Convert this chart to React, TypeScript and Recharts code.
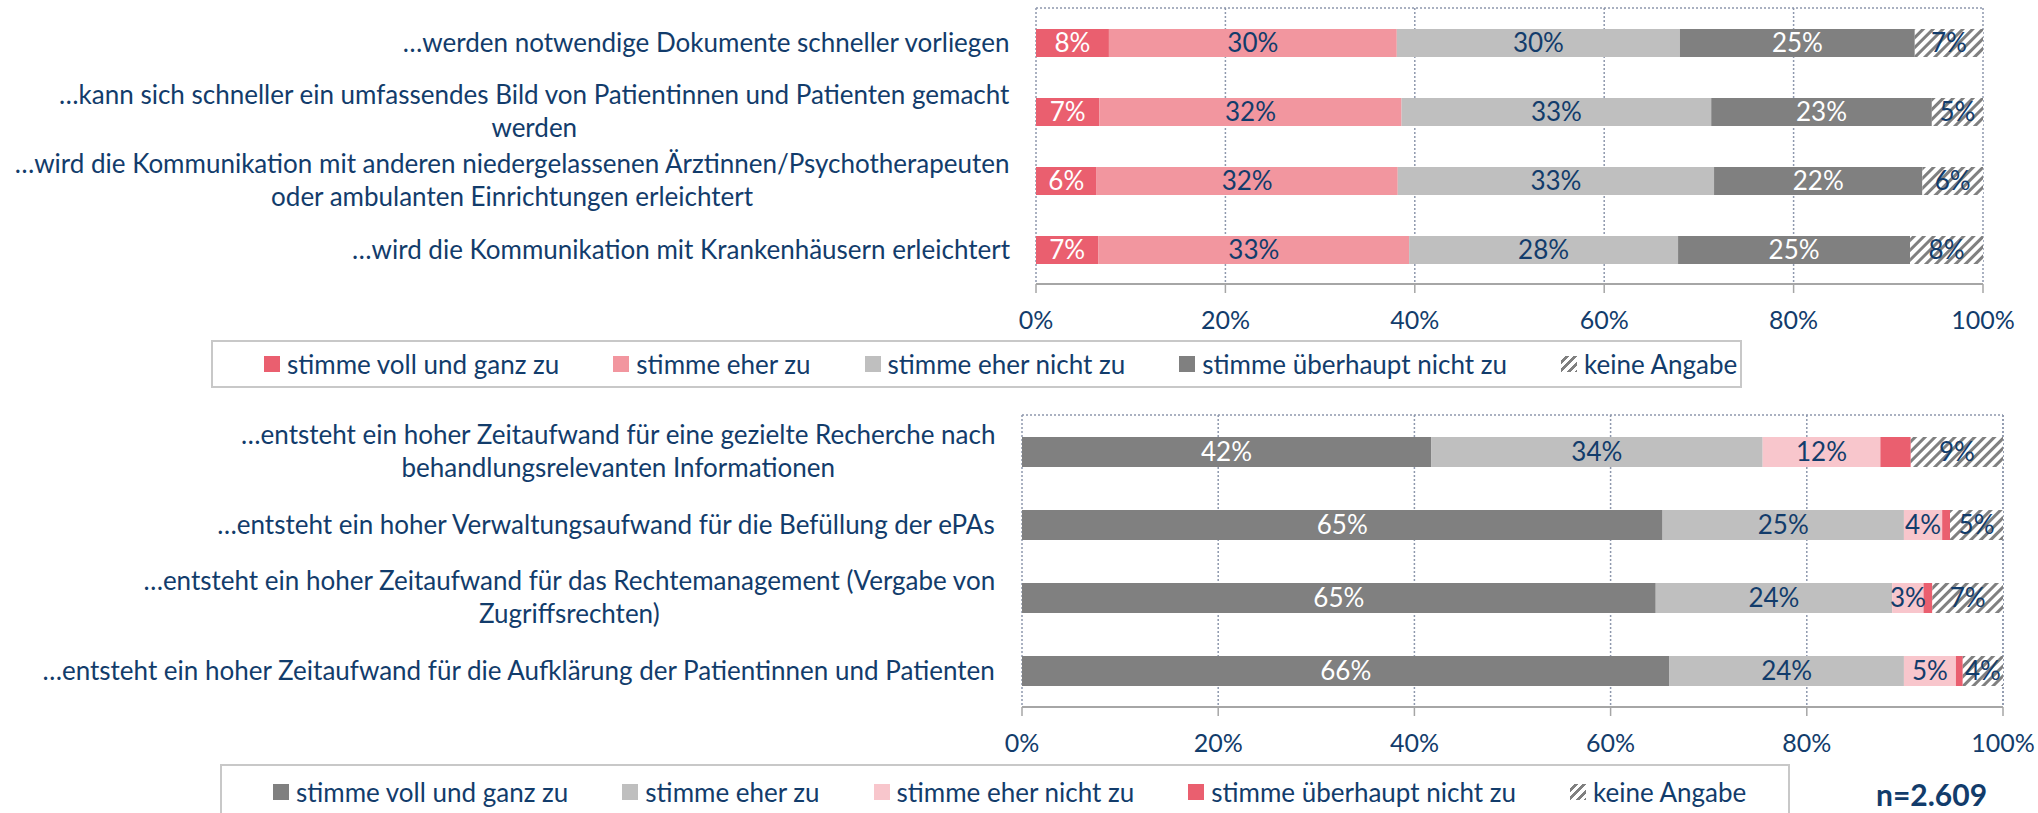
import React from 'react';
import { Bar, BarChart, CartesianGrid, LabelList, XAxis, YAxis } from 'recharts';

const FONT = 'Lato';
const FONT_SIZE = 26;
const LINE_H = 33;
const TEXT_BLUE = '#123c6b';
const GRID = '#8e98ad';
const AXIS = '#a6a6a6';

const RED = '#ea5f6f';
const PINK = '#f2969f';
const LIGHT_PINK = '#f8c6cc';
const LIGHT_GRAY = '#bfbfbf';
const DARK_GRAY = '#808080';

const LEGEND_LABELS = [
  'stimme voll und ganz zu',
  'stimme eher zu',
  'stimme eher nicht zu',
  'stimme überhaupt nicht zu',
  'keine Angabe',
];
const X_TICKS = [0, 20, 40, 60, 80, 100];

// oberes Diagramm (Nutzen)
const TOP_CATEGORIES = [
  '…werden notwendige Dokumente schneller vorliegen',
  '…kann sich schneller ein umfassendes Bild von Patientinnen und Patienten gemacht\nwerden',
  '…wird die Kommunikation mit anderen niedergelassenen Ärztinnen/Psychotherapeuten\noder ambulanten Einrichtungen erleichtert',
  '…wird die Kommunikation mit Krankenhäusern erleichtert',
];
const TOP_VOLL = [7.7, 6.7, 6.4, 6.6];
const TOP_EHER = [30.4, 31.9, 31.8, 32.8];
const TOP_EHER_NICHT = [29.9, 32.7, 33.4, 28.4];
const TOP_UEBERHAUPT_NICHT = [24.8, 23.3, 22.0, 24.5];
const TOP_KEINE = [7.2, 5.4, 6.4, 7.7];

// unteres Diagramm (Aufwand)
const BOTTOM_CATEGORIES = [
  '…entsteht ein hoher Zeitaufwand für eine gezielte Recherche nach\nbehandlungsrelevanten Informationen',
  '…entsteht ein hoher Verwaltungsaufwand für die Befüllung der ePAs',
  '…entsteht ein hoher Zeitaufwand für das Rechtemanagement (Vergabe von\nZugriffsrechten)',
  '…entsteht ein hoher Zeitaufwand für die Aufklärung der Patientinnen und Patienten',
];
const BOTTOM_VOLL = [41.7, 65.3, 64.6, 66.0];
const BOTTOM_EHER = [33.8, 24.6, 24.1, 23.9];
const BOTTOM_EHER_NICHT = [12.0, 3.9, 3.2, 5.3];
const BOTTOM_UEBERHAUPT_NICHT = [3.1, 0.8, 0.9, 0.7];
const BOTTOM_KEINE = [9.4, 5.4, 7.2, 4.1];

type Series = { color: string; labelColor: string; showLabel: boolean };

const TOP_SERIES: Series[] = [
  { color: RED, labelColor: '#fff', showLabel: true },
  { color: PINK, labelColor: TEXT_BLUE, showLabel: true },
  { color: LIGHT_GRAY, labelColor: TEXT_BLUE, showLabel: true },
  { color: DARK_GRAY, labelColor: '#fff', showLabel: true },
  { color: 'hatch', labelColor: TEXT_BLUE, showLabel: true },
];
const BOTTOM_SERIES: Series[] = [
  { color: DARK_GRAY, labelColor: '#fff', showLabel: true },
  { color: LIGHT_GRAY, labelColor: TEXT_BLUE, showLabel: true },
  { color: LIGHT_PINK, labelColor: TEXT_BLUE, showLabel: true },
  { color: RED, labelColor: '#fff', showLabel: false },
  { color: 'hatch', labelColor: TEXT_BLUE, showLabel: true },
];

const buildRows = (cats: string[], cols: number[][]) =>
  cats.map((name, i) => {
    const row: Record<string, string | number> = { name };
    cols.forEach((c, k) => {
      row[`s${k}`] = c[i];
    });
    return row;
  });

const topRows = buildRows(TOP_CATEGORIES, [TOP_VOLL, TOP_EHER, TOP_EHER_NICHT, TOP_UEBERHAUPT_NICHT, TOP_KEINE]);
const bottomRows = buildRows(BOTTOM_CATEGORIES, [
  BOTTOM_VOLL,
  BOTTOM_EHER,
  BOTTOM_EHER_NICHT,
  BOTTOM_UEBERHAUPT_NICHT,
  BOTTOM_KEINE,
]);

let ctx: CanvasRenderingContext2D | null = null;
function textWidth(s: string) {
  if (!ctx) ctx = document.createElement('canvas').getContext('2d');
  if (!ctx) return s.length * FONT_SIZE * 0.5;
  ctx.font = `${FONT_SIZE}px ${FONT}`;
  return ctx.measureText(s).width;
}

// mehrzeilige Beschriftung: Zeilen zentriert, Block rechtsbündig
function CategoryTick(props: any) {
  const { x, y, payload } = props;
  const lines = String(payload.value).split('\n');
  const maxW = Math.max(...lines.map(textWidth));
  const cx = x - maxW / 2;
  const y0 = y - ((lines.length - 1) * LINE_H) / 2;
  return (
    <text textAnchor="middle" fontFamily={FONT} fontSize={FONT_SIZE} fill={TEXT_BLUE}>
      {lines.map((l, i) => (
        <tspan key={i} x={cx} y={y0 + i * LINE_H} dy="0.35em">
          {l}
        </tspan>
      ))}
    </text>
  );
}

type ChartProps = {
  rows: Record<string, string | number>[];
  series: Series[];
  width: number;
  height: number;
  plotLeft: number;
  marginTop: number;
  marginRight: number;
  bandH: number;
  barSize: number;
  patternId: string;
};

function StackedChart({
  rows,
  series,
  width,
  height,
  plotLeft,
  marginTop,
  marginRight,
  bandH,
  barSize,
  patternId,
}: ChartProps) {
  return (
    <BarChart
      width={width}
      height={height}
      data={rows}
      layout="vertical"
      margin={{ top: marginTop, right: marginRight, bottom: 0, left: 0 }}
      barCategoryGap={0}
    >
      <defs>
        <pattern id={patternId} width={7} height={7} patternUnits="userSpaceOnUse" patternTransform="rotate(45)">
          <rect width={7} height={7} fill="#fff" />
          <rect width={3} height={7} fill={DARK_GRAY} />
        </pattern>
      </defs>
      <CartesianGrid yAxisId="grid" stroke={GRID} strokeDasharray="2 2" strokeWidth={1.5} />
      <XAxis
        type="number"
        domain={[0, 100]}
        ticks={X_TICKS}
        tickFormatter={v => `${v}%`}
        axisLine={{ stroke: AXIS, strokeWidth: 2 }}
        tickLine={{ stroke: AXIS, strokeWidth: 1.5 }}
        tickSize={9}
        tickMargin={18}
        height={height - marginTop - 4 * bandH}
        tick={{ fill: TEXT_BLUE, fontSize: 25, fontFamily: FONT }}
      />
      <YAxis
        yAxisId="grid"
        type="number"
        domain={[0, 4]}
        ticks={[0, 1, 2, 3, 4]}
        tick={false}
        tickSize={7}
        width={0}
        axisLine={{ stroke: AXIS, strokeWidth: 2 }}
        tickLine={{ stroke: AXIS, strokeWidth: 1.5 }}
      />
      <YAxis
        yAxisId="cat"
        type="category"
        dataKey="name"
        width={plotLeft}
        axisLine={false}
        tickLine={false}
        tickSize={6}
        tickMargin={20}
        interval={0}
        tick={<CategoryTick />}
      />
      {series.map((s, k) => (
        <Bar
          key={k}
          yAxisId="cat"
          dataKey={`s${k}`}
          stackId="a"
          fill={s.color === 'hatch' ? `url(#${patternId})` : s.color}
          barSize={barSize}
          isAnimationActive={false}
        >
          {s.showLabel && (
            <LabelList
              dataKey={`s${k}`}
              position="center"
              formatter={(v: any) => `${Math.round(Number(v))}%`}
              fill={s.labelColor}
              fontSize={FONT_SIZE}
              fontFamily={FONT}
            />
          )}
        </Bar>
      ))}
    </BarChart>
  );
}

function LegendBox({ colors, style }: { colors: string[]; style: React.CSSProperties }) {
  return (
    <div
      style={{
        position: 'absolute',
        boxSizing: 'border-box',
        border: '2px solid #c8c8c8',
        display: 'flex',
        alignItems: 'center',
        paddingLeft: 51,
        gap: 54,
        fontFamily: FONT,
        fontSize: 26,
        color: TEXT_BLUE,
        ...style,
      }}
    >
      {LEGEND_LABELS.map((label, i) => (
        <div key={label} style={{ display: 'flex', alignItems: 'center', gap: 7, whiteSpace: 'nowrap' }}>
          <span
            style={{
              display: 'inline-block',
              width: 16,
              height: 16,
              background:
                colors[i] === 'hatch'
                  ? `repeating-linear-gradient(135deg, #fff 0 3px, ${DARK_GRAY} 3px 6px)`
                  : colors[i],
            }}
          />
          <span>{label}</span>
        </div>
      ))}
    </div>
  );
}

export default function App() {
  return (
    <div style={{ position: 'absolute', left: 0, top: 0, width: 2038, height: 813, background: '#fff', overflow: 'hidden' }}>
      <div style={{ position: 'absolute', left: 0, top: 0 }}>
        <StackedChart
          rows={topRows}
          series={TOP_SERIES}
          width={2038}
          height={335}
          plotLeft={1036}
          marginTop={8}
          marginRight={55}
          bandH={69}
          barSize={28}
          patternId="hatchTop"
        />
      </div>
      <LegendBox colors={TOP_SERIES.map(s => s.color)} style={{ left: 211, top: 340, width: 1531, height: 48 }} />
      <div style={{ position: 'absolute', left: 0, top: 400 }}>
        <StackedChart
          rows={bottomRows}
          series={BOTTOM_SERIES}
          width={2038}
          height={360}
          plotLeft={1022}
          marginTop={15}
          marginRight={35}
          bandH={73}
          barSize={30}
          patternId="hatchBottom"
        />
      </div>
      <LegendBox
        colors={BOTTOM_SERIES.map(s => s.color)}
        style={{ left: 220, top: 764, width: 1570, height: 58, paddingBottom: 3 }}
      />
      <div
        style={{
          position: 'absolute',
          left: 1876,
          top: 779,
          fontFamily: FONT,
          fontSize: 30,
          lineHeight: '30px',
          fontWeight: 'bold',
          color: TEXT_BLUE,
          whiteSpace: 'nowrap',
        }}
      >
        n=2.609
      </div>
    </div>
  );
}
